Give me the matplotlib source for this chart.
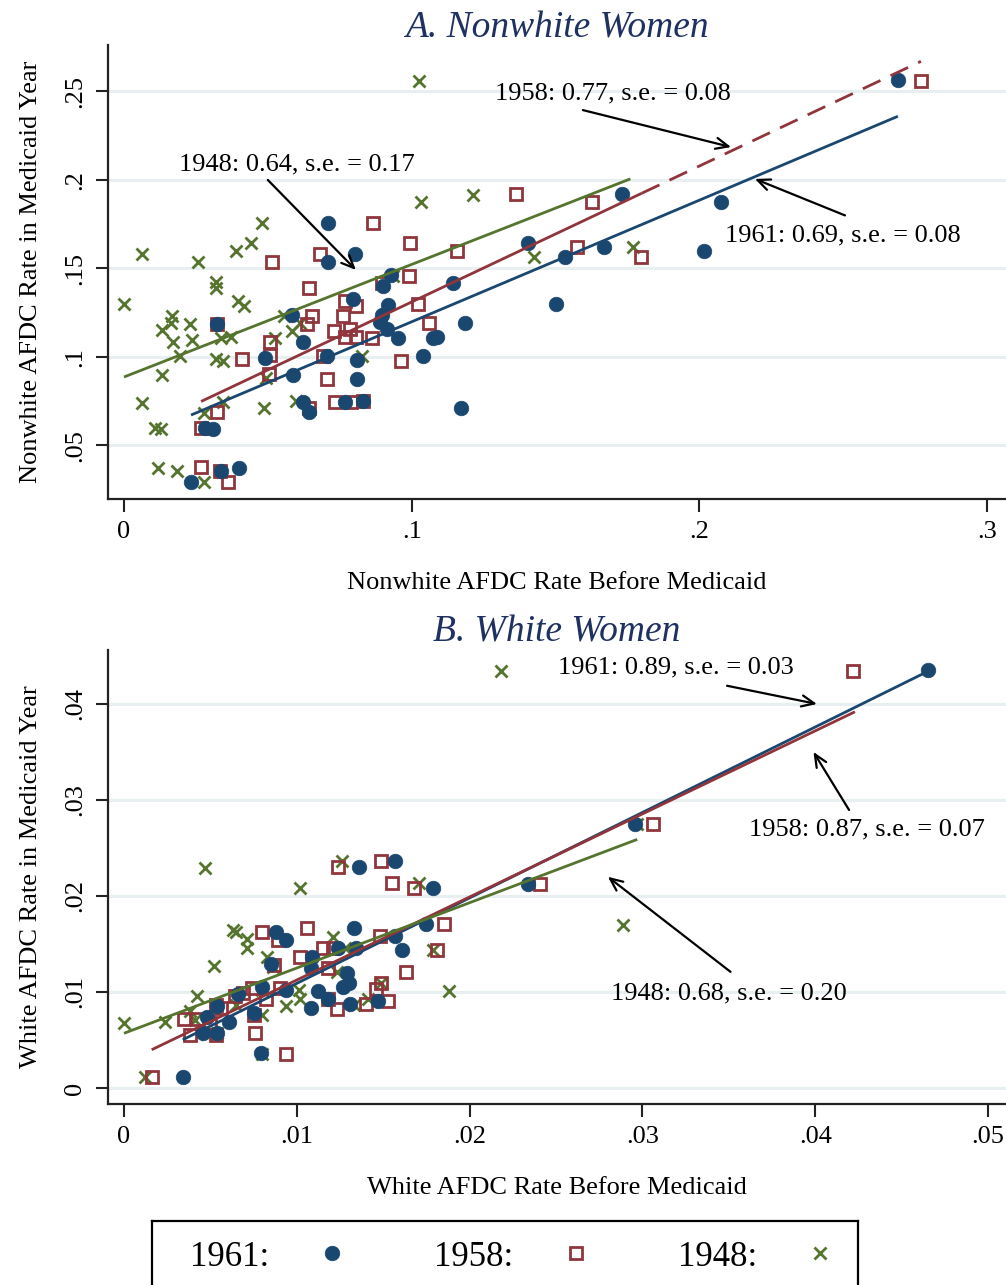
import matplotlib
matplotlib.use("Agg")
import matplotlib.pyplot as plt
from matplotlib.lines import Line2D
import numpy as np

plt.rcParams['font.family'] = ['Liberation Serif', 'DejaVu Serif']

BLUE = '#1a476f'
RED = '#90353b'
GREEN = '#55752f'
GRID = '#e8eff1'
TITLE = '#1f3161'

# ---------------- Panel A: Nonwhite women ----------------
a61_x = [0.269, 0.2075, 0.2016, 0.173, 0.1668, 0.1533, 0.1404, 0.1143, 0.150, 0.1185,
         0.1074, 0.1088, 0.1039, 0.117, 0.0952, 0.0709, 0.0803, 0.0709, 0.0928, 0.090,
         0.0796, 0.0918, 0.0897, 0.089, 0.0914, 0.0584, 0.0622, 0.049, 0.0588, 0.081,
         0.081, 0.0706, 0.0622, 0.0643, 0.0768, 0.0831, 0.031, 0.0282, 0.0323, 0.040,
         0.0233, 0.0337]
a61_y = [0.2565, 0.1876, 0.160, 0.192, 0.162, 0.1565, 0.1644, 0.1418, 0.130, 0.119,
         0.1107, 0.1113, 0.1006, 0.0712, 0.1107, 0.1757, 0.158, 0.1537, 0.1463, 0.1400,
         0.1328, 0.1294, 0.1237, 0.1198, 0.1158, 0.1237, 0.1085, 0.0994, 0.0898, 0.0983,
         0.0876, 0.1006, 0.0746, 0.0689, 0.0746, 0.0751, 0.0593, 0.0599, 0.1186, 0.0373,
         0.0294, 0.0356]

a58_x = [0.277, 0.1363, 0.1627, 0.0994, 0.1157, 0.1575, 0.1797, 0.099, 0.1022, 0.106,
         0.0962, 0.0865, 0.0681, 0.0514, 0.0897, 0.0643, 0.0768, 0.0806, 0.0653, 0.0636,
         0.0761, 0.073, 0.0768, 0.0806, 0.0862, 0.0786, 0.0507, 0.0507, 0.041, 0.0323,
         0.0504, 0.0692, 0.0706, 0.0643, 0.0733, 0.0789, 0.0831, 0.0323, 0.0268, 0.0268,
         0.0334, 0.0362]
a58_y = [0.256, 0.192, 0.1876, 0.1644, 0.160, 0.162, 0.1565, 0.1458, 0.130, 0.119,
         0.0977, 0.1757, 0.158, 0.1537, 0.1418, 0.139, 0.1316, 0.1288, 0.1232, 0.1186,
         0.1232, 0.1147, 0.1113, 0.1113, 0.1107, 0.1158, 0.1085, 0.101, 0.0989, 0.1186,
         0.0904, 0.1006, 0.0876, 0.0712, 0.0746, 0.0746, 0.0751, 0.0689, 0.0599, 0.0379,
         0.0356, 0.0294]

a48_x = [0.1025, 0.1032, 0.1213, 0.1425, 0.1769, 0.0063, 0.0257, 0.0389, 0.0441, 0.048,
         0.032, 0.032, 0.0396, 0.0417, 0.0, 0.0167, 0.0163, 0.0132, 0.0229, 0.017,
         0.0236, 0.0195, 0.0132, 0.032, 0.0344, 0.0337, 0.0372, 0.0063, 0.0108, 0.0129,
         0.0344, 0.0278, 0.0487, 0.0598, 0.0494, 0.0525, 0.0584, 0.0612, 0.0556, 0.0827,
         0.0935, 0.0118, 0.0184, 0.0278]
a48_y = [0.256, 0.1876, 0.1915, 0.1565, 0.162, 0.158, 0.1537, 0.160, 0.1644, 0.1757,
         0.1425, 0.139, 0.1316, 0.1288, 0.130, 0.1232, 0.1192, 0.1153, 0.1186, 0.1085,
         0.1096, 0.1006, 0.0898, 0.0989, 0.0977, 0.1107, 0.1113, 0.074, 0.0599, 0.0593,
         0.0746, 0.0684, 0.0712, 0.0751, 0.0881, 0.1107, 0.1147, 0.1192, 0.1232, 0.1006,
         0.1458, 0.0373, 0.0356, 0.0294]

# fitted lines (slope, intercept, x-range)
a_fit_slope = {'1961': 0.687, '1958': 0.768, '1948': 0.636}
a_fit_icpt = {'1961': 0.0512, '1958': 0.0543, '1948': 0.0887}
a_fit_range = {'1961': (0.0233, 0.269), '1958': (0.0268, 0.180), '1948': (0.0, 0.176)}
a_fit_dash_range = (0.180, 0.277)   # dashed extension of the 1958 line

# ---------------- Panel B: White women ----------------
b61_x = [0.0465, 0.0296, 0.0234, 0.0088, 0.0094, 0.0085, 0.0066, 0.008, 0.0094, 0.0054,
         0.0048, 0.0061, 0.0046, 0.0054, 0.0075, 0.0079, 0.0034, 0.0108, 0.0136, 0.0157,
         0.0179, 0.0175, 0.0157, 0.0161, 0.0133, 0.0134, 0.0124, 0.0109, 0.0108, 0.0129,
         0.013, 0.0127, 0.0112, 0.0131, 0.0147, 0.0118]
b61_y = [0.0435, 0.0275, 0.0212, 0.0163, 0.0154, 0.0129, 0.0098, 0.0105, 0.0102, 0.0085,
         0.0074, 0.0069, 0.0057, 0.0057, 0.0078, 0.0036, 0.0011, 0.0083, 0.023, 0.0236,
         0.0208, 0.0171, 0.0158, 0.0144, 0.0167, 0.0146, 0.0146, 0.0136, 0.0125, 0.012,
         0.0109, 0.0105, 0.0101, 0.0088, 0.0091, 0.0093]

b58_x = [0.0422, 0.0306, 0.0241, 0.008, 0.0089, 0.0106, 0.0087, 0.0102, 0.0064, 0.0074,
         0.009, 0.0082, 0.0069, 0.0053, 0.0056, 0.0035, 0.0042, 0.005, 0.0075, 0.0038,
         0.0053, 0.0076, 0.0094, 0.0016, 0.0124, 0.0149, 0.0155, 0.0168, 0.0185, 0.0148,
         0.0181, 0.0115, 0.0121, 0.0118, 0.0163, 0.0149, 0.0146, 0.0118, 0.0153, 0.014,
         0.0123]
b58_y = [0.0434, 0.0275, 0.0212, 0.0162, 0.0154, 0.0167, 0.0128, 0.0136, 0.0096, 0.0104,
         0.0104, 0.0093, 0.0099, 0.0086, 0.0083, 0.0072, 0.0072, 0.0068, 0.0076, 0.0055,
         0.0055, 0.0057, 0.0035, 0.0011, 0.023, 0.0236, 0.0214, 0.0208, 0.0171, 0.0158,
         0.0144, 0.0146, 0.0146, 0.0125, 0.0121, 0.0109, 0.0103, 0.0093, 0.0091, 0.0088,
         0.0082]

b48_x = [0.0218, 0.0297, 0.0289, 0.0047, 0.0102, 0.0063, 0.0065, 0.0071, 0.0071, 0.0052,
         0.0083, 0.0086, 0.0042, 0.0101, 0.0102, 0.0094, 0.008, 0.008, 0.0038, 0.0024,
         0.0, 0.0041, 0.0048, 0.0054, 0.0065, 0.008, 0.0012, 0.0126, 0.0171, 0.0121,
         0.0128, 0.0179, 0.0123, 0.0149, 0.0133, 0.0141, 0.0188]
b48_y = [0.0434, 0.0275, 0.017, 0.0229, 0.0208, 0.0165, 0.0162, 0.0155, 0.0146, 0.0127,
         0.0136, 0.0126, 0.0096, 0.0102, 0.0093, 0.0085, 0.0102, 0.0076, 0.008, 0.0069,
         0.0068, 0.0071, 0.0056, 0.0057, 0.0086, 0.0035, 0.0011, 0.0236, 0.0214, 0.0157,
         0.0146, 0.0144, 0.0121, 0.0109, 0.0086, 0.0093, 0.0101]

b_fit_slope = {'1961': 0.89, '1958': 0.865, '1948': 0.68}
b_fit_icpt = {'1961': 0.0020, '1958': 0.0026, '1948': 0.0057}
b_fit_range = {'1961': (0.0034, 0.0465), '1958': (0.0016, 0.0423), '1948': (0.0, 0.0297)}

years = ['1961', '1958', '1948']
legend_labels = ['1961:', '1958:', '1948:']

a_xticks = [0, 0.1, 0.2, 0.3]
a_xticklabels = ['0', '.1', '.2', '.3']
a_yticks = [0.05, 0.1, 0.15, 0.2, 0.25]
a_yticklabels = ['.05', '.1', '.15', '.2', '.25']
b_xticks = [0, 0.01, 0.02, 0.03, 0.04, 0.05]
b_xticklabels = ['0', '.01', '.02', '.03', '.04', '.05']
b_yticks = [0, 0.01, 0.02, 0.03, 0.04]
b_yticklabels = ['0', '.01', '.02', '.03', '.04']

# annotations: (text, text_xy, arrow_tail, arrow_head)
a_notes = [
    ('1948: 0.64, s.e. = 0.17', (0.0601, 0.209), (0.0500, 0.200), (0.0806, 0.1492)),
    ('1958: 0.77, s.e. = 0.08', (0.170, 0.249), (0.1595, 0.2395), (0.211, 0.2186)),
    ('1961: 0.69, s.e. = 0.08', (0.250, 0.1684), (0.2506, 0.180), (0.2193, 0.2006)),
]
b_notes = [
    ('1961: 0.89, s.e. = 0.03', (0.03194, 0.04385), (0.0349, 0.0419), (0.0401, 0.0400)),
    ('1958: 0.87, s.e. = 0.07', (0.0430, 0.0269), (0.04196, 0.02896), (0.0399, 0.0350)),
    ('1948: 0.68, s.e. = 0.20', (0.0350, 0.0099), (0.0351, 0.0121), (0.0280, 0.0220)),
]

W, H = 1006, 1285
fig = plt.figure(figsize=(W / 100, H / 100), dpi=100)
fig.patch.set_facecolor('white')

def fx(px):
    return px / W

def fy(py):
    return 1 - py / H

axA = fig.add_axes([fx(108), fy(499), 1 - fx(108), fy(45) - fy(499)])
axB = fig.add_axes([fx(108), fy(1104), 1 - fx(108), fy(650) - fy(1104)])

marker_kw = {
    '1961': dict(marker='o', ms=10.5, mfc=BLUE, mec=BLUE, mew=0.5, ls='none'),
    '1958': dict(marker='s', ms=9.0, mfc='none', mec=RED, mew=2.0, ls='none'),
    '1948': dict(marker='x', ms=8.5, mec=GREEN, mew=2.0, ls='none'),
}
colors = {'1961': BLUE, '1958': RED, '1948': GREEN}

FS = 19

def style_axes(ax, xlim, ylim, xticks, xtl, yticks, ytl, xlabel, ylabel, title):
    ax.set_xlim(*xlim)
    ax.set_ylim(*ylim)
    for s in ['top', 'right']:
        ax.spines[s].set_visible(False)
    for s in ['left', 'bottom']:
        ax.spines[s].set_color('#222222')
        ax.spines[s].set_linewidth(1.6)
    ax.set_xticks(xticks)
    ax.set_xticklabels(xtl, fontsize=FS)
    ax.set_yticks(yticks)
    ax.set_yticklabels(ytl, fontsize=FS, rotation=90, va='center')
    ax.tick_params(axis='both', direction='out', length=9, width=1.5, color='#222222')
    ax.tick_params(axis='x', pad=7)
    ax.tick_params(axis='y', pad=7)
    ax.grid(axis='y', color=GRID, lw=2.2)
    ax.set_axisbelow(True)
    ax.set_xlabel(xlabel, fontsize=FS, labelpad=21)
    ax.set_ylabel(ylabel, fontsize=FS, labelpad=16)
    ax.set_title(title, fontsize=27, style='italic', color=TITLE, pad=5)

style_axes(axA, ((108 - 124) / 2877, (1006 - 124) / 2877),
           ((534 - 499) / 1770, (534 - 45) / 1770),
           a_xticks, a_xticklabels, a_yticks, a_yticklabels,
           'Nonwhite AFDC Rate Before Medicaid', 'Nonwhite AFDC Rate in Medicaid Year',
           'A. Nonwhite Women')

style_axes(axB, ((108 - 124) / 17280, (1006 - 124) / 17280),
           ((1088 - 1104) / 9600, (1088 - 650) / 9600),
           b_xticks, b_xticklabels, b_yticks, b_yticklabels,
           'White AFDC Rate Before Medicaid', 'White AFDC Rate in Medicaid Year',
           'B. White Women')

a_data = {'1961': (a61_x, a61_y), '1958': (a58_x, a58_y), '1948': (a48_x, a48_y)}
b_data = {'1961': (b61_x, b61_y), '1958': (b58_x, b58_y), '1948': (b48_x, b48_y)}

for yr in ['1948', '1958', '1961']:
    axA.plot(*a_data[yr], zorder=3, **marker_kw[yr])
    axB.plot(*b_data[yr], zorder=3, **marker_kw[yr])

for yr in years:
    x0, x1 = a_fit_range[yr]
    xs = np.array([x0, x1])
    axA.plot(xs, a_fit_icpt[yr] + a_fit_slope[yr] * xs, color=colors[yr], lw=2.0, zorder=4,
             solid_capstyle='butt')
    x0, x1 = b_fit_range[yr]
    xs = np.array([x0, x1])
    axB.plot(xs, b_fit_icpt[yr] + b_fit_slope[yr] * xs, color=colors[yr], lw=2.0, zorder=4,
             solid_capstyle='butt')

xs = np.array(a_fit_dash_range)
axA.plot(xs, a_fit_icpt['1958'] + a_fit_slope['1958'] * xs, color=RED, lw=2.0,
         ls=(0, (7, 4)), zorder=4)

arrow_props = dict(arrowstyle='->,head_length=0.9,head_width=0.4', lw=1.6, color='black',
                   shrinkA=0, shrinkB=0)
for ax, notes in [(axA, a_notes), (axB, b_notes)]:
    for txt, txy, tail, head in notes:
        ax.text(txy[0], txy[1], txt, fontsize=FS, ha='center', va='center', zorder=6)
        ax.annotate('', xy=head, xytext=tail, arrowprops=arrow_props, zorder=6)

# legend box
lax = fig.add_axes([fx(152), -0.05, fx(858) - fx(152), fy(1221) + 0.05])
lax.set_xticks([])
lax.set_yticks([])
for s in lax.spines.values():
    s.set_color('black')
    s.set_linewidth(1.6)
handles = [Line2D([], [], **marker_kw[yr]) for yr in years]
lax.legend(handles, legend_labels, loc='center left', ncol=3, markerfirst=False,
           frameon=False, fontsize=25, handlelength=2.0, handletextpad=0.8,
           columnspacing=1.95, bbox_to_anchor=(fx(190), fy(1257)),
           bbox_transform=fig.transFigure, borderpad=0, borderaxespad=0)

fig.savefig('out.png', dpi=100, facecolor='white')
